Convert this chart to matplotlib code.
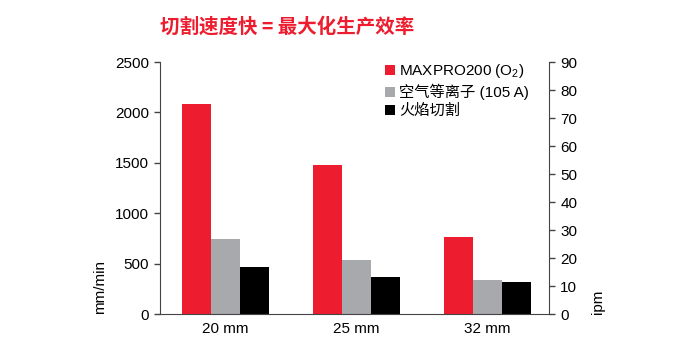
import matplotlib
matplotlib.use("Agg")
import matplotlib.pyplot as plt
from matplotlib.lines import Line2D
import numpy as np

plt.rcParams['font.family'] = ['Liberation Sans', 'Noto Sans CJK SC', 'DejaVu Sans']
plt.rcParams['mathtext.fontset'] = 'custom'
plt.rcParams['mathtext.rm'] = 'Liberation Sans'

thickness = ['20 mm', '25 mm', '32 mm']
maxpro = [2080, 1480, 760]
air_plasma = [740, 540, 340]
oxyfuel = [470, 370, 315]
series_names = ['MAXPRO200 (O$_2$)', '空气等离子 (105 A)', '火焰切割']
colors = ['#ED1C2E', '#A7A9AC', '#000000']
left_ticks = [0, 500, 1000, 1500, 2000, 2500]
right_ticks = [0, 10, 20, 30, 40, 50, 60, 70, 80, 90]

fig = plt.figure(figsize=(6.9, 3.57), dpi=100)
ax = fig.add_axes([0.2319, 0.1204, 0.5638, 0.7059])

x = np.arange(len(thickness))
w = 0.222
for i, vals in enumerate([maxpro, air_plasma, oxyfuel]):
    ax.bar(x + (i - 1) * w, vals, w, color=colors[i], linewidth=0)

spine_col = '#444444'
fs = 11
ax.set_xlim(-0.5, 2.47)
ax.set_ylim(0, 2500)
ax.set_yticks(left_ticks)
ax.set_xticks(x)
ax.set_xticklabels(thickness)
ax.tick_params(axis='x', length=0, pad=6, labelsize=fs)
ax.tick_params(axis='y', length=4, width=1, color=spine_col, pad=4, labelsize=fs)
ax.spines['top'].set_visible(False)
ax.spines['right'].set_visible(False)
for s in ['left', 'bottom']:
    ax.spines[s].set_color(spine_col)
ax.set_ylabel('mm/min', loc='bottom', fontsize=fs, labelpad=6)

ax2 = ax.twinx()
ax2.set_ylim(0, 90)
ax2.set_yticks(right_ticks)
ax2.tick_params(axis='y', length=4, width=1, color=spine_col, pad=4, labelsize=fs)
for s in ['top', 'left', 'bottom']:
    ax2.spines[s].set_visible(False)
ax2.spines['right'].set_color(spine_col)
ax2.set_ylabel('ipm', loc='bottom', fontsize=fs, labelpad=10, rotation=90)

handles = [Line2D([], [], marker='s', linestyle='none', markersize=6.5,
                  markerfacecolor=c, markeredgewidth=0) for c in colors]
ax.legend(handles, series_names, loc='upper left', bbox_to_anchor=(0.578, 1.0),
          frameon=False, fontsize=fs, handlelength=0.7, handletextpad=0.22,
          labelspacing=0.25, borderaxespad=0, borderpad=0)

fig.text(0.232, 0.924, '切割速度快 = 最大化生产效率', color='#ED1C2E',
         fontsize=14, fontweight='bold', ha='left', va='center',
         family=['Noto Sans CJK SC', 'DejaVu Sans'])

fig.savefig('out.png', dpi=100)
